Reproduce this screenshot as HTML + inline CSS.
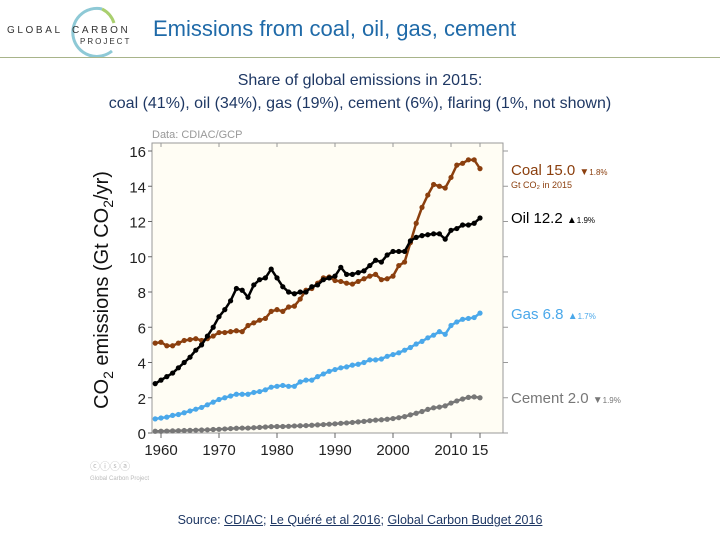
<!DOCTYPE html>
<html><head><meta charset="utf-8"><style>
body{margin:0;width:720px;height:540px;background:#fff;font-family:"Liberation Sans",sans-serif;position:relative;overflow:hidden}
.t{position:absolute;white-space:nowrap}
</style></head><body>
<div class="t" style="left:7px;top:25px;font-size:10px;letter-spacing:2.6px;color:#333">GLOBAL</div>
<svg style="position:absolute;left:62px;top:3px" width="60" height="54"><path d="M40 6 A24 24 0 1 0 50 48" fill="none" stroke="#8ec9d6" stroke-width="3"/><path d="M40 6 A24 24 0 0 1 52 20" fill="none" stroke="#a9cf6e" stroke-width="3"/></svg>
<div class="t" style="left:72px;top:25px;font-size:10px;letter-spacing:2.6px;color:#333">CARBON</div>
<div class="t" style="left:80px;top:37px;font-size:8px;letter-spacing:2px;color:#333">PROJECT</div>
<div class="t" style="left:153px;top:16px;font-size:22px;color:#1f6aa8">Emissions from coal, oil, gas, cement</div>
<div style="position:absolute;left:0;top:57px;width:720px;height:1px;background:#a8b48a"></div>
<div class="t" style="left:0;width:720px;top:69px;text-align:center;font-size:16px;line-height:23px;color:#1f3864">Share of global emissions in 2015:<br>coal (41%), oil (34%), gas (19%), cement (6%), flaring (1%, not shown)</div>
<div class="t" style="left:0;width:720px;top:513px;text-align:center;font-size:12.5px;color:#1f3864">Source: <u>CDIAC</u>; <u>Le Quéré et al 2016</u>; <u>Global Carbon Budget 2016</u></div>
<svg id="c" style="position:absolute;left:0;top:0" width="720" height="540"></svg>
<script>
const years=[];for(let y=1959;y<=2015;y++)years.push(y);
const coal=[5.1,5.15,4.95,4.95,5.1,5.25,5.3,5.35,5.25,5.35,5.5,5.7,5.7,5.75,5.8,5.75,6.1,6.25,6.4,6.5,6.9,7.0,6.9,7.15,7.2,7.6,8.1,8.2,8.5,8.8,8.85,8.65,8.6,8.5,8.45,8.6,8.75,8.9,9.0,8.7,8.75,8.9,9.5,9.7,10.8,11.9,12.8,13.5,14.1,14.0,13.9,14.5,15.2,15.3,15.5,15.5,15.0];
const oil=[2.8,3.0,3.2,3.4,3.7,4.0,4.3,4.7,5.0,5.5,6.0,6.6,7.0,7.5,8.2,8.1,7.7,8.4,8.7,8.8,9.3,8.8,8.3,8.0,7.9,8.0,8.0,8.3,8.4,8.7,8.8,8.9,9.4,9.0,9.0,9.1,9.2,9.5,9.8,9.7,10.1,10.3,10.3,10.3,10.9,11.1,11.2,11.25,11.3,11.3,11.0,11.5,11.6,11.8,11.8,11.9,12.2];
const gas=[0.8,0.85,0.9,1.0,1.05,1.15,1.25,1.35,1.45,1.6,1.75,1.9,2.0,2.1,2.2,2.2,2.2,2.3,2.35,2.45,2.6,2.65,2.7,2.65,2.65,2.9,3.0,3.0,3.2,3.35,3.5,3.6,3.7,3.75,3.85,3.9,4.0,4.15,4.15,4.2,4.35,4.45,4.55,4.7,4.85,5.05,5.2,5.4,5.55,5.75,5.6,6.1,6.3,6.45,6.5,6.55,6.8];
const cement=[0.1,0.1,0.11,0.12,0.13,0.14,0.15,0.16,0.17,0.18,0.2,0.21,0.23,0.25,0.27,0.28,0.28,0.3,0.32,0.34,0.36,0.37,0.37,0.38,0.4,0.41,0.42,0.44,0.46,0.48,0.5,0.52,0.55,0.57,0.6,0.63,0.66,0.7,0.73,0.75,0.78,0.82,0.87,0.93,1.03,1.12,1.22,1.34,1.43,1.47,1.54,1.7,1.82,1.93,2.02,2.05,2.0];
const yTicks=[0,2,4,6,8,10,12,14,16];
const xTicks=[1960,1970,1980,1990,2000,2010,2015];
const xTickLabels=["1960","1970","1980","1990","2000","2010","15"];
const NS="http://www.w3.org/2000/svg",svg=document.getElementById('c');
const X=y=>161+(y-1960)*5.8, Y=v=>433-v*17.625;
function mk(t,a,p){const e=document.createElementNS(NS,t);for(const k in a)e.setAttribute(k,a[k]);(p||svg).appendChild(e);return e;}
const bg=mk('rect',{x:152,y:143,width:351,height:290,fill:'#fffdf4',stroke:'#999','stroke-width':1});


const dt=mk('text',{x:152,y:138,'font-size':11,fill:'#999','font-family':'Liberation Sans'});dt.textContent='Data: CDIAC/GCP';


yTicks.forEach(v=>{
 mk('line',{x1:148,x2:152,y1:Y(v),y2:Y(v),stroke:'#666'});
 mk('line',{x1:503,x2:508,y1:Y(v),y2:Y(v),stroke:'#999'});
 const t=mk('text',{x:146,y:Y(v)+6,'font-size':15,'text-anchor':'end',fill:'#222','font-family':'Liberation Sans'});t.textContent=v;
 
 
});
xTicks.forEach((v,i)=>{
 mk('line',{x1:X(v),x2:X(v),y1:433,y2:438,stroke:'#666'});
 mk('line',{x1:X(v),x2:X(v),y1:143,y2:147,stroke:'#999'});
 const t=mk('text',{x:X(v),y:455,'font-size':15,'text-anchor':'middle',fill:'#222','font-family':'Liberation Sans'});t.textContent=xTickLabels[i];
 
 
});
const yt=mk('text',{transform:'translate(108,290) rotate(-90)','font-size':20,'text-anchor':'middle',fill:'#111','font-family':'Liberation Sans'});
yt.innerHTML='CO<tspan font-size="14" dy="5">2</tspan><tspan dy="-5"> emissions (Gt CO</tspan><tspan font-size="14" dy="5">2</tspan><tspan dy="-5">/yr)</tspan>';


function series(vals,col,name){
 const g=mk('g',{});
 
 
 mk('polyline',{points:vals.map((v,i)=>X(years[i])+','+Y(v)).join(' '),fill:'none',stroke:col,'stroke-width':2.5},g);
 vals.forEach((v,i)=>{const c=mk('circle',{cx:X(years[i]),cy:Y(v),r:2.6,fill:col},g);
  
  });
}
series(cement,'#777','cement');series(gas,'#4aa8ea','gas');series(coal,'#8b3f0e','coal');series(oil,'#000','oil');
function lab(y,txt,col,pct,up,name){
 const t=mk('text',{x:511,y:y,'font-size':15,fill:col,'font-family':'Liberation Sans'});
 t.innerHTML=txt+' <tspan font-size="10">'+(up?'▲':'▼')+'</tspan><tspan font-size="8">'+pct+'</tspan>';
 
 
}
lab(175,'Coal 15.0','#8b3f0e','1.8%',false,'coal');
const s=mk('text',{x:511,y:188,'font-size':9,fill:'#8b3f0e','font-family':'Liberation Sans'});s.textContent='Gt CO₂ in 2015';


lab(223,'Oil 12.2','#000','1.9%',true,'oil');
lab(319,'Gas 6.8','#4aa8ea','1.7%',true,'gas');
lab(403,'Cement 2.0','#777','1.9%',false,'cement');
const cc=mk('text',{x:90,y:470,'font-size':10,fill:'#bbb','font-family':'Liberation Sans'});cc.textContent='ⓒⓘⓢⓐ';


const gp=mk('text',{x:90,y:480,'font-size':6,fill:'#bbb','font-family':'Liberation Sans'});gp.textContent='Global Carbon Project';


</script>
</body></html>
